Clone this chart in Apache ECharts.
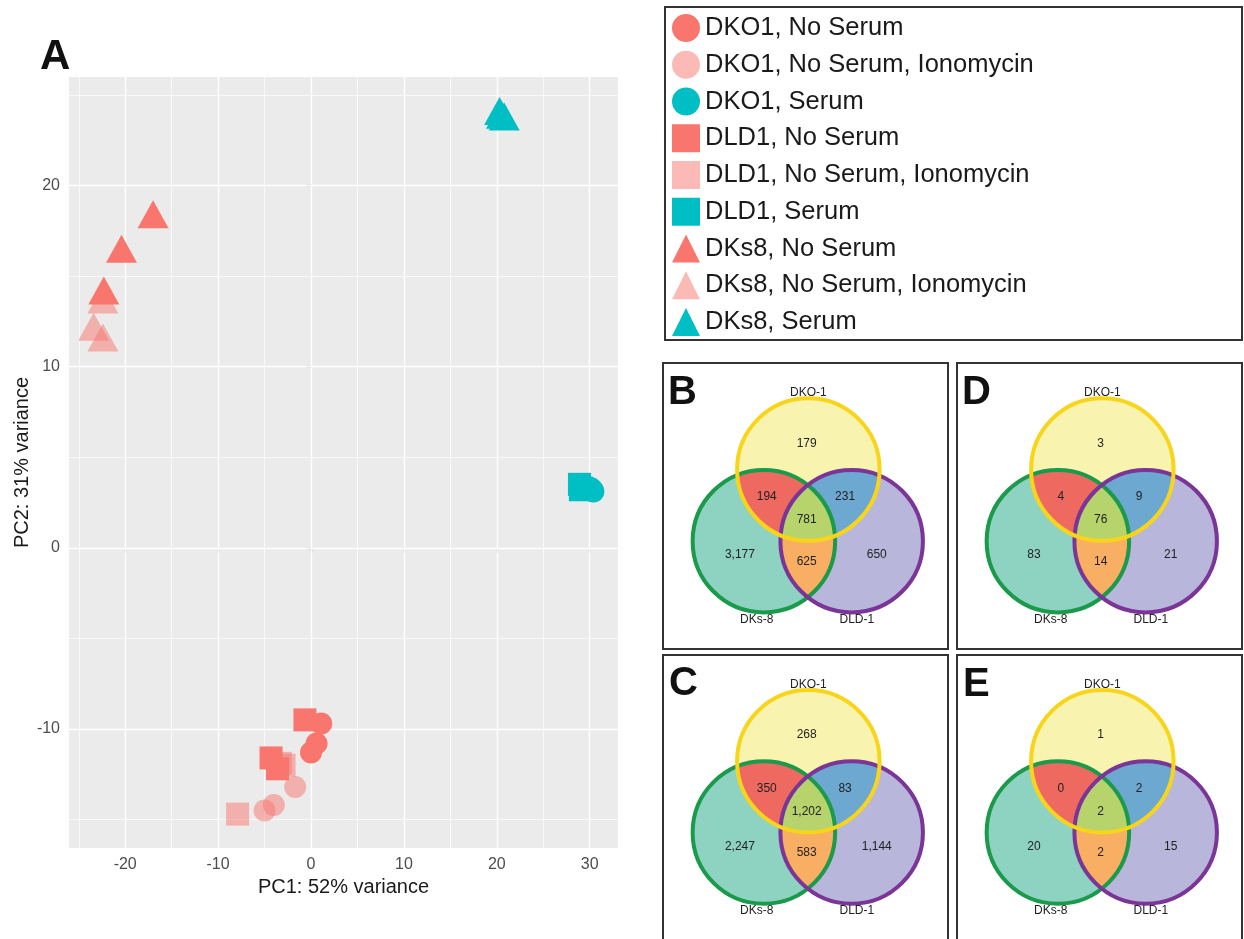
<!DOCTYPE html>
<html>
<head>
<meta charset="utf-8">
<script src="https://cdn.jsdelivr.net/npm/echarts@6/dist/echarts.min.js"></script>
<style>
  html, body { margin: 0; padding: 0; background: #ffffff; }
  #chart { width: 1244px; height: 939px; }
</style>
</head>
<body>
<div id="chart"></div>
<script>
// ---------- Panel A: PCA scores (PC1, PC2) per sample group ----------
const groupNames = [
  'DKO1, No Serum', 'DKO1, No Serum, Ionomycin', 'DKO1, Serum',
  'DLD1, No Serum', 'DLD1, No Serum, Ionomycin', 'DLD1, Serum',
  'DKs8, No Serum', 'DKs8, No Serum, Ionomycin', 'DKs8, Serum'
];
const dko1NoSerum      = [[1.1, -9.7], [0.6, -10.8], [0.0, -11.3]];
const dko1NoSerumIono  = [[-1.7, -13.2], [-4.0, -14.2], [-5.0, -14.5]];
const dko1Serum        = [[30.3, 3.2], [30.1, 3.3], [30.4, 3.1]];
const dld1NoSerum      = [[-0.65, -9.5], [-4.3, -11.6], [-3.6, -12.2]];
const dld1NoSerumIono  = [[-7.9, -14.7], [-2.9, -12.0], [-3.3, -11.9]];
const dld1Serum        = [[28.9, 3.5], [29.0, 3.2], [29.1, 3.3]];
const dks8NoSerum      = [[-17.0, 18.4], [-20.4, 16.5], [-22.3, 14.2]];
const dks8NoSerumIono  = [[-22.4, 13.7], [-23.4, 12.2], [-22.4, 11.6]];
const dks8Serum        = [[20.3, 24.1], [20.8, 23.8], [20.5, 23.9]];

const xTicks = [-20, -10, 0, 10, 20, 30];
const yTicks = [-10, 0, 10, 20];
const xMinorGrid = [-25, -15, -5, 5, 15, 25];
const yMinorGrid = [-15, -5, 5, 15, 25];

// ---------- Panels B–E: overlap counts ----------
const setNames = ['DKO-1', 'DKs-8', 'DLD-1'];
// order: DKO-1 only, DKO-1&DKs-8, DKO-1&DLD-1, all three, DKs-8 only, DKs-8&DLD-1, DLD-1 only
const vennB = [179, 194, 231, 781, 3177, 625, 650];
const vennC = [268, 350, 83, 1202, 2247, 583, 1144];
const vennD = [3, 4, 9, 76, 83, 14, 21];
const vennE = [1, 0, 2, 2, 20, 2, 15];

// ---------- styling / layout ----------
const FONT = '"Liberation Sans", Arial, Helvetica, sans-serif';
const RED = '#F8766D';
const TEAL = '#00BFC4';

const groupStyle = [
  { symbol: 'circle', size: 22, color: RED, opacity: 1 },
  { symbol: 'circle', size: 22, color: RED, opacity: 0.5 },
  { symbol: 'circle', size: 22, color: TEAL, opacity: 1 },
  { symbol: 'rect', size: 23, color: RED, opacity: 1 },
  { symbol: 'rect', size: 23, color: RED, opacity: 0.5 },
  { symbol: 'rect', size: 23, color: TEAL, opacity: 1 },
  { symbol: 'triangle', size: [31, 28], color: RED, opacity: 1 },
  { symbol: 'triangle', size: [31, 28], color: RED, opacity: 0.5 },
  { symbol: 'triangle', size: [31, 28], color: TEAL, opacity: 1 }
];
const groupData = [dko1NoSerum, dko1NoSerumIono, dko1Serum, dld1NoSerum, dld1NoSerumIono,
                   dld1Serum, dks8NoSerum, dks8NoSerumIono, dks8Serum];
// paint the faint (ionomycin) groups underneath the others
const paintOrder = [1, 4, 7, 0, 3, 6, 2, 5, 8];

// Venn geometry in panel units (0–100 square)
const VENN_CIRCLES = [
  { x: 51.0, y: 62.6, r: 25.0, fill: '#F8F4B0', stroke: '#F8D51A' },  // DKO-1
  { x: 35.4, y: 37.5, r: 25.0, fill: '#8ED3C2', stroke: '#1B9A4B' },  // DKs-8
  { x: 66.2, y: 37.5, r: 25.0, fill: '#B9B6DB', stroke: '#7A3596' }   // DLD-1
];
const LENS_COLORS = { ab: '#EE6A61', ac: '#6DA8D1', bc: '#F8AF63', abc: '#B7D36C' };
const COUNT_POS = [[50.4, 71.8], [36.4, 53.1], [63.9, 53.1], [50.4, 44.9], [27.0, 32.6], [50.4, 30.3], [75.0, 32.6]];
const NAME_POS = [[51.0, 89.6], [32.9, 9.8], [68.0, 9.8]];

const vennPanels = [
  { letter: 'B', counts: vennB, left: 663, top: 363 },
  { letter: 'D', counts: vennD, left: 957, top: 363 },
  { letter: 'C', counts: vennC, left: 663, top: 655 },
  { letter: 'E', counts: vennE, left: 957, top: 655 }
];
const VENN_SIZE = 285;

function fmtThousands(v) {
  return String(v).replace(/\B(?=(\d{3})+(?!\d))/g, ',');
}

function meet(a, b) {
  const dx = b.x - a.x, dy = b.y - a.y, d = Math.hypot(dx, dy);
  const l = (a.r * a.r - b.r * b.r + d * d) / (2 * d);
  const h = Math.sqrt(Math.max(a.r * a.r - l * l, 0));
  const mx = a.x + l * dx / d, my = a.y + l * dy / d;
  return [[mx - h * dy / d, my + h * dx / d], [mx + h * dy / d, my - h * dx / d]];
}
function nearest(pts, c) {
  const d0 = Math.hypot(pts[0][0] - c.x, pts[0][1] - c.y);
  const d1 = Math.hypot(pts[1][0] - c.x, pts[1][1] - c.y);
  return d0 < d1 ? pts[0] : pts[1];
}
function arc(c, p, q, n) {
  const a1 = Math.atan2(p[1] - c.y, p[0] - c.x);
  const a2 = Math.atan2(q[1] - c.y, q[0] - c.x);
  let da = a2 - a1;
  while (da > Math.PI) da -= 2 * Math.PI;
  while (da < -Math.PI) da += 2 * Math.PI;
  const out = [];
  for (let i = 0; i <= n; i++) {
    const t = a1 + da * i / n;
    out.push([c.x + c.r * Math.cos(t), c.y + c.r * Math.sin(t)]);
  }
  return out;
}
function lens(a, b) {
  const pq = meet(a, b);
  return arc(a, pq[0], pq[1], 60).concat(arc(b, pq[1], pq[0], 60));
}

function renderVennShapes(params, api) {
  const cs = VENN_CIRCLES.map(function (c) {
    const p = api.coord([c.x, c.y]);
    return { x: p[0], y: p[1], r: api.size([c.r, 0])[0], fill: c.fill, stroke: c.stroke };
  });
  const A = cs[0], B = cs[1], C = cs[2];
  const children = [];
  cs.forEach(function (c) {
    children.push({ type: 'circle', shape: { cx: c.x, cy: c.y, r: c.r }, style: { fill: c.fill } });
  });
  children.push({ type: 'polygon', shape: { points: lens(A, B) }, style: { fill: LENS_COLORS.ab } });
  children.push({ type: 'polygon', shape: { points: lens(A, C) }, style: { fill: LENS_COLORS.ac } });
  children.push({ type: 'polygon', shape: { points: lens(B, C) }, style: { fill: LENS_COLORS.bc } });
  const iAB = nearest(meet(A, B), C), iAC = nearest(meet(A, C), B), iBC = nearest(meet(B, C), A);
  const core = arc(A, iAB, iAC, 40).concat(arc(C, iAC, iBC, 40), arc(B, iBC, iAB, 40));
  children.push({ type: 'polygon', shape: { points: core }, style: { fill: LENS_COLORS.abc } });
  [B, C, A].forEach(function (c) {
    children.push({ type: 'circle', shape: { cx: c.x, cy: c.y, r: c.r },
      style: { fill: 'none', stroke: c.stroke, lineWidth: 4 } });
  });
  return { type: 'group', children: children };
}

function renderVennText(params, api) {
  const p = api.coord([api.value(0), api.value(1)]);
  const label = params.seriesName.indexOf('names') >= 0
    ? setNames[params.dataIndex]
    : fmtThousands(api.value(2));
  return {
    type: 'text', x: p[0], y: p[1],
    style: { text: label, fill: '#222222', fontSize: 12, fontFamily: FONT,
             align: 'center', verticalAlign: 'middle' }
  };
}

const chart = echarts.init(document.getElementById('chart'), null, { renderer: 'canvas' });

const grids = [{ left: 69, top: 77, width: 549, height: 771, show: true,
                 backgroundColor: '#EBEBEB', borderWidth: 0 }];
const xAxes = [{
  type: 'value', gridIndex: 0, min: -26.05, max: 33.05,
  name: 'PC1: 52% variance', nameLocation: 'middle', nameGap: 29,
  nameTextStyle: { fontSize: 20, color: '#1A1A1A', fontFamily: FONT },
  axisLine: { show: false },
  axisTick: { show: true, length: 5, customValues: xTicks, lineStyle: { color: '#333333', width: 1.2 } },
  axisLabel: { customValues: xTicks, fontSize: 16, color: '#4D4D4D', margin: 9, fontFamily: FONT },
  splitLine: { show: false }
}];
const yAxes = [{
  type: 'value', gridIndex: 0, min: -16.57, max: 25.98,
  name: 'PC2: 31% variance', nameLocation: 'middle', nameGap: 37,
  nameTextStyle: { fontSize: 20, color: '#1A1A1A', fontFamily: FONT },
  axisLine: { show: false },
  axisTick: { show: true, length: 5, customValues: yTicks, lineStyle: { color: '#333333', width: 1.2 } },
  axisLabel: { customValues: yTicks, fontSize: 16, color: '#4D4D4D', margin: 9, fontFamily: FONT },
  splitLine: { show: false }
}];

const series = [];
// panel grid lines (white, major and minor)
const gridLines = [];
xTicks.forEach(function (v) { gridLines.push({ xAxis: v, lineStyle: { width: 1.4 } }); });
xMinorGrid.forEach(function (v) { gridLines.push({ xAxis: v, lineStyle: { width: 0.7 } }); });
yTicks.forEach(function (v) { gridLines.push({ yAxis: v, lineStyle: { width: 1.4 } }); });
yMinorGrid.forEach(function (v) { gridLines.push({ yAxis: v, lineStyle: { width: 0.7 } }); });
series.push({
  name: 'grid', type: 'scatter', xAxisIndex: 0, yAxisIndex: 0, data: [], z: 1, silent: true,
  markLine: { silent: true, symbol: ['none', 'none'], animation: false, label: { show: false },
              lineStyle: { color: '#FFFFFF', type: 'solid' }, emphasis: { disabled: true },
              data: gridLines }
});

paintOrder.forEach(function (i) {
  const g = groupStyle[i];
  series.push({
    name: groupNames[i], type: 'scatter', xAxisIndex: 0, yAxisIndex: 0, z: 10,
    symbol: g.symbol, symbolSize: g.size, data: groupData[i],
    itemStyle: { color: g.color, opacity: g.opacity },
    emphasis: { disabled: true }
  });
});

vennPanels.forEach(function (panel, k) {
  const gi = k + 1;
  grids.push({ left: panel.left, top: panel.top, width: VENN_SIZE, height: VENN_SIZE });
  xAxes.push({ type: 'value', gridIndex: gi, min: 0, max: 100, show: false, splitLine: { show: false } });
  yAxes.push({ type: 'value', gridIndex: gi, min: 0, max: 100, show: false, splitLine: { show: false } });
  series.push({
    name: 'venn shapes ' + panel.letter, type: 'custom', xAxisIndex: gi, yAxisIndex: gi,
    data: [[50, 50]], renderItem: renderVennShapes, silent: true, clip: false, z: 2
  });
  series.push({
    name: 'venn counts ' + panel.letter, type: 'custom', xAxisIndex: gi, yAxisIndex: gi,
    data: panel.counts.map(function (c, i) { return [COUNT_POS[i][0], COUNT_POS[i][1], c]; }),
    renderItem: renderVennText, silent: true, clip: false, z: 5
  });
  series.push({
    name: 'venn names ' + panel.letter, type: 'custom', xAxisIndex: gi, yAxisIndex: gi,
    data: NAME_POS.map(function (p) { return [p[0], p[1]]; }),
    renderItem: renderVennText, silent: true, clip: false, z: 5
  });
});

const letterStyle = { fontSize: 40, fontWeight: 'bold', color: '#111111', fontFamily: FONT };
const titles = [{ text: 'A', left: 40, top: 36, padding: 0,
                  textStyle: Object.assign({}, letterStyle, { fontSize: 42 }) }];
const letterOffsets = { B: [5, 9.5], D: [5, 9.5], C: [6, 9], E: [6, 9.5] };
vennPanels.forEach(function (panel) {
  const o = letterOffsets[panel.letter];
  titles.push({ text: panel.letter, left: panel.left + o[0], top: panel.top + o[1], padding: 0, textStyle: letterStyle });
});

const boxes = [
  { x: 665, y: 7, w: 577, h: 333 },
  { x: 663, y: 363, w: 285, h: 286 },
  { x: 957, y: 363, w: 285, h: 286 },
  { x: 663, y: 655, w: 285, h: 290 },
  { x: 957, y: 655, w: 285, h: 290 }
];

chart.setOption({
  animation: false,
  backgroundColor: '#FFFFFF',
  textStyle: { fontFamily: FONT },
  title: titles,
  grid: grids,
  xAxis: xAxes,
  yAxis: yAxes,
  legend: {
    data: groupNames, orient: 'vertical', left: 672, top: 14,
    itemWidth: 28, itemHeight: 28, itemGap: 8.75, selectedMode: false,
    padding: 0,
    textStyle: { fontSize: 25.5, color: '#1A1A1A', fontFamily: FONT, lineHeight: 28 }
  },
  graphic: boxes.map(function (b) {
    return { type: 'rect', silent: true, z: 100,
             shape: { x: b.x, y: b.y, width: b.w, height: b.h },
             style: { fill: 'none', stroke: '#333333', lineWidth: 2 } };
  }),
  series: series
});
</script>
</body>
</html>
